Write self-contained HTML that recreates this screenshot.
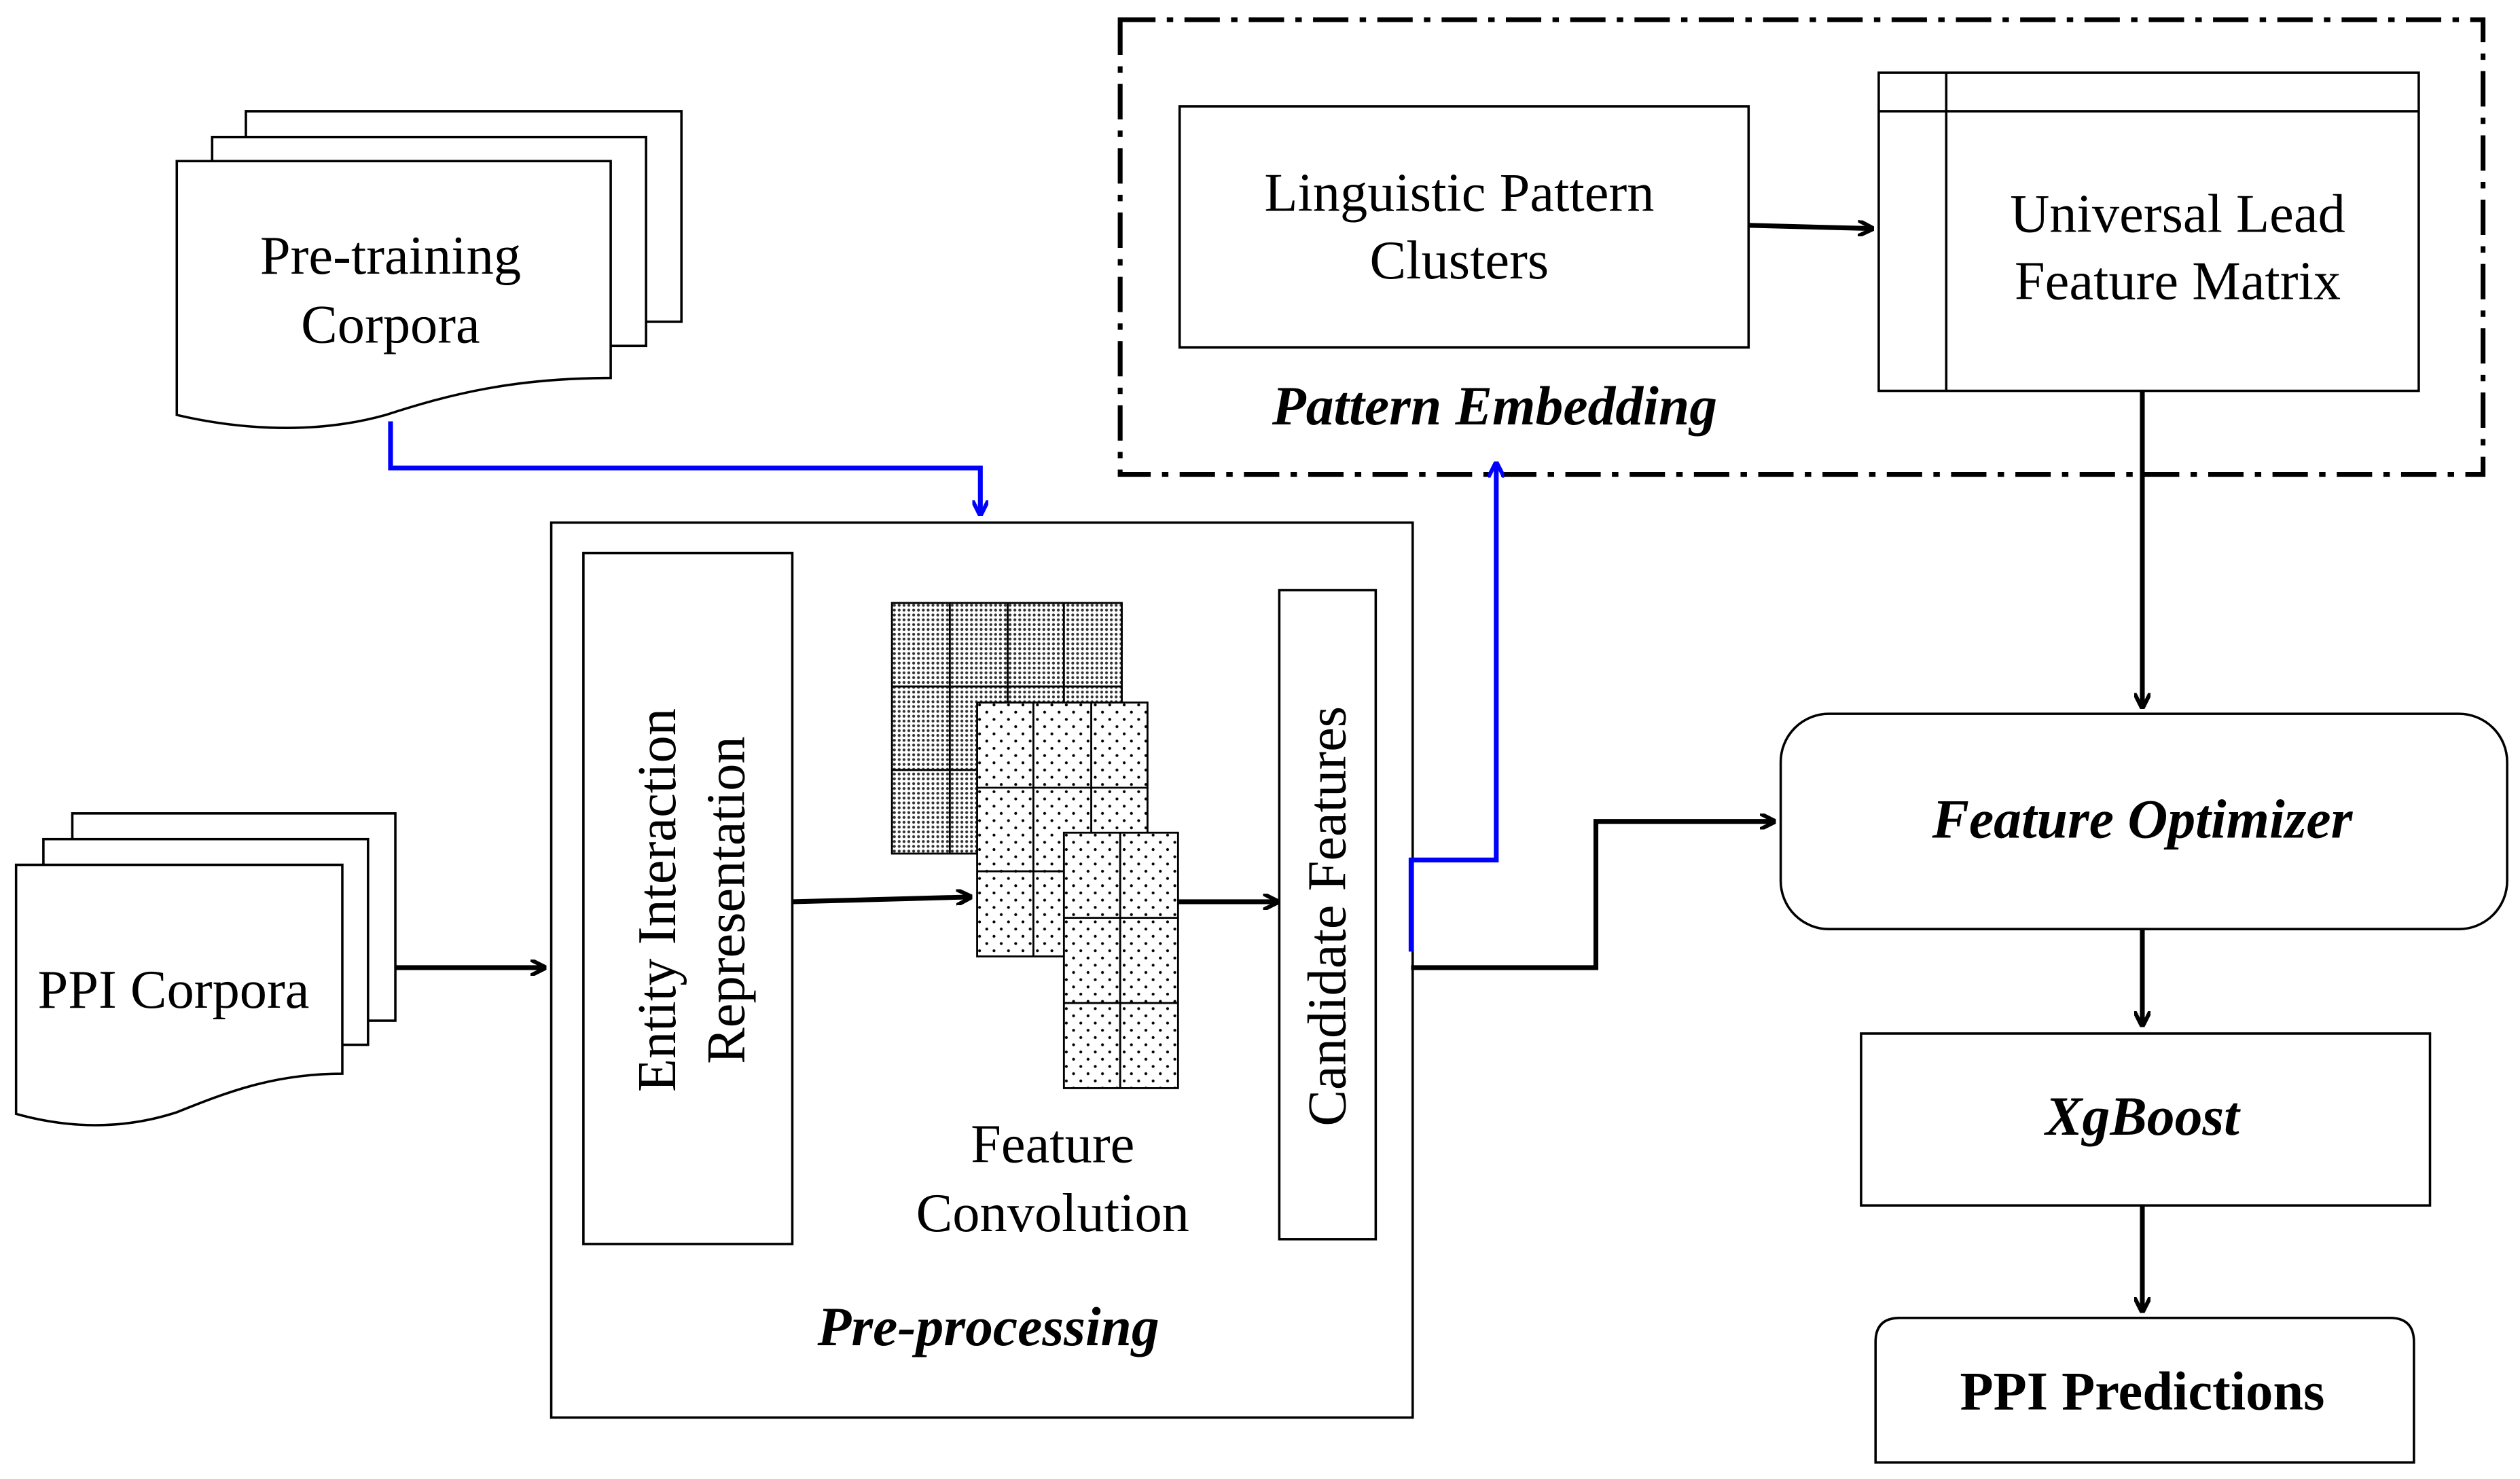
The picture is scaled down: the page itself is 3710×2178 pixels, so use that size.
<!DOCTYPE html>
<html><head><meta charset="utf-8"><style>
html,body{margin:0;padding:0;background:#fff;}
svg{display:block;}
text{font-family:"Liberation Serif",serif;fill:#000;}
</style></head><body>
<svg width="3710" height="2178" viewBox="0 0 1568 920" xmlns="http://www.w3.org/2000/svg">
<defs>
<pattern id="dense" width="3" height="3" patternUnits="userSpaceOnUse"><rect width="3" height="3" fill="#fff"/><circle cx="1.5" cy="1.5" r="0.9" fill="#333"/></pattern>
<pattern id="sparse" width="9" height="9" patternUnits="userSpaceOnUse"><rect width="9" height="9" fill="#fff"/><circle cx="2" cy="2" r="0.9" fill="#000"/><circle cx="6.5" cy="6.5" r="0.9" fill="#000"/></pattern>
<marker id="ab" markerWidth="10" markerHeight="10" refX="9" refY="5" orient="auto" markerUnits="userSpaceOnUse"><path d="M0,0 L10,5 L0,10" fill="none" stroke="#000" stroke-width="2.5"/></marker>
<marker id="abl" markerWidth="10" markerHeight="10" refX="9" refY="5" orient="auto" markerUnits="userSpaceOnUse"><path d="M0,0 L10,5 L0,10" fill="none" stroke="#00f" stroke-width="2.5"/></marker>
</defs>
<g fill="#fff" stroke="#000" stroke-width="1.5">
<rect x="153" y="69" width="271" height="131"/>
<rect x="132" y="85" width="270" height="130"/>
<path d="M110,100 H380 V235 C320,235 280,245 240,258 C190,272 140,265 110,258 Z"/>
<rect x="45" y="506" width="201" height="129"/>
<rect x="27" y="522" width="202" height="128"/>
<path d="M10,538 H213 V668 C170,668 140,680 110,692 C70,705 35,700 10,693 Z"/>
<rect x="343" y="325" width="536" height="557"/>
<rect x="363" y="344" width="130" height="430"/>
<rect x="796" y="367" width="60" height="404"/>
<rect x="734" y="66" width="354" height="150"/>
<rect x="1169" y="45" width="336" height="198"/>
<line x1="1169" y1="69" x2="1505" y2="69"/>
<line x1="1211" y1="45" x2="1211" y2="243"/>
<rect x="1108" y="444" width="452" height="134" rx="30"/>
<rect x="1158" y="643" width="354" height="107"/>
<path d="M1167,910 V835 Q1167,820 1182,820 H1487 Q1502,820 1502,835 V910 Z"/>
</g>
<g stroke="#000" stroke-width="1.2">
<rect x="555" y="375" width="143" height="156" fill="url(#dense)"/>
<line x1="591" y1="375" x2="591" y2="531"/><line x1="627" y1="375" x2="627" y2="531"/><line x1="662" y1="375" x2="662" y2="531"/>
<line x1="555" y1="427" x2="698" y2="427"/><line x1="555" y1="479" x2="698" y2="479"/>
<rect x="608" y="437" width="106" height="158" fill="url(#sparse)"/>
<line x1="643" y1="437" x2="643" y2="595"/><line x1="679" y1="437" x2="679" y2="595"/>
<line x1="608" y1="490" x2="714" y2="490"/><line x1="608" y1="542" x2="714" y2="542"/>
<rect x="662" y="518" width="71" height="159" fill="url(#sparse)"/>
<line x1="697" y1="518" x2="697" y2="677"/>
<line x1="662" y1="571" x2="733" y2="571"/><line x1="662" y1="624" x2="733" y2="624"/>
</g>
<rect x="697" y="12" width="848" height="283" fill="none" stroke="#000" stroke-width="3" stroke-dasharray="22,7,4,7"/>
<g fill="none" stroke-width="3">
<path d="M243,262 V291 H610 V320" stroke="#00f" marker-end="url(#abl)"/>
<path d="M878,592 V535 H931 V288" stroke="#00f" marker-end="url(#abl)"/>
<path d="M878,602 H993 V511 H1104" stroke="#000" marker-end="url(#ab)"/>
<path d="M246,602 H339" stroke="#000" marker-end="url(#ab)"/>
<path d="M493,561 L604,558" stroke="#000" marker-end="url(#ab)"/>
<path d="M733,561 H795" stroke="#000" marker-end="url(#ab)"/>
<path d="M1088,140 L1165,142" stroke="#000" marker-end="url(#ab)"/>
<path d="M1333,243 V440" stroke="#000" marker-end="url(#ab)"/>
<path d="M1333,578 V638" stroke="#000" marker-end="url(#ab)"/>
<path d="M1333,750 V816" stroke="#000" marker-end="url(#ab)"/>
</g>
<g font-size="34" text-anchor="middle">
<text x="243" y="170">Pre-training</text>
<text x="243" y="213">Corpora</text>
<text x="108" y="627">PPI Corpora</text>
<text x="655" y="723">Feature</text>
<text x="655" y="766">Convolution</text>
<text x="908" y="131">Linguistic Pattern</text>
<text x="908" y="173">Clusters</text>
<text x="1355" y="144">Universal Lead</text>
<text x="1355" y="186">Feature Matrix</text>
<text transform="translate(420,560) rotate(-90)">Entity Interaction</text>
<text transform="translate(463,560) rotate(-90)">Representation</text>
<text transform="translate(837,570) rotate(-90)">Candidate Features</text>
<g font-weight="bold" font-style="italic" font-size="34.5">
<text x="615" y="837">Pre-processing</text>
<text x="930" y="264">Pattern Embedding</text>
<text x="1333" y="521">Feature Optimizer</text>
<text x="1333" y="706">XgBoost</text>
</g>
<text x="1333" y="877" font-weight="bold">PPI Predictions</text>
</g>
</svg>
</body></html>
